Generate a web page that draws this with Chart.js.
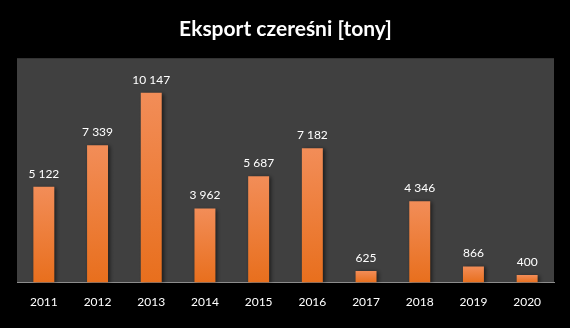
<!DOCTYPE html>
<html>
<head>
<meta charset="utf-8">
<script src="https://cdn.jsdelivr.net/npm/chart.js@4.4.1/dist/chart.umd.min.js"></script>
<style>
  html, body { margin: 0; padding: 0; background: #000; }
  #wrap { width: 570px; height: 328px; position: relative; }
</style>
</head>
<body>
<div id="wrap"><canvas id="c" width="570" height="328"></canvas></div>
<script>
// Cherry export volumes per year
const years = ['2011', '2012', '2013', '2014', '2015', '2016', '2017', '2018', '2019', '2020'];
const exportTons = [5122, 7339, 10147, 3962, 5687, 7182, 625, 4346, 866, 400];
const chartTitle = 'Eksport czereśni [tony]';

const FONT = 'Lato, "Open Sans", sans-serif';

function formatTons(v) {
  return String(v).replace(/\B(?=(\d{3})+(?!\d))/g, ' ');
}

// Dark gray plot background
const plotBackground = {
  id: 'plotBackground',
  beforeDraw(chart) {
    const { ctx, chartArea: a } = chart;
    ctx.save();
    ctx.fillStyle = '#404040';
    ctx.fillRect(a.left, a.top, a.right - a.left, a.bottom - a.top);
    ctx.restore();
  }
};

// Soft shadow to the right of each bar
const barShadow = {
  id: 'barShadow',
  beforeDatasetsDraw(chart) {
    const ctx = chart.ctx;
    ctx.save();
    ctx.shadowColor = 'rgba(0,0,0,0.55)';
    ctx.shadowBlur = 4;
    ctx.shadowOffsetX = 2;
    ctx.shadowOffsetY = 1;
  },
  afterDatasetsDraw(chart) {
    chart.ctx.restore();
  }
};

// Value labels above the bars
const valueLabels = {
  id: 'valueLabels',
  afterDraw(chart) {
    const ctx = chart.ctx;
    const meta = chart.getDatasetMeta(0);
    ctx.save();
    ctx.fillStyle = '#ffffff';
    ctx.font = '12px ' + FONT;
    ctx.textAlign = 'center';
    ctx.textBaseline = 'middle';
    meta.data.forEach((bar, i) => {
      const v = chart.data.datasets[0].data[i];
      ctx.fillText(formatTons(v), bar.x, bar.y - 13);
    });
    ctx.restore();
  }
};

new Chart(document.getElementById('c'), {
  type: 'bar',
  data: {
    labels: years,
    datasets: [{
      data: exportTons,
      backgroundColor(context) {
        const chart = context.chart;
        if (!chart.chartArea) return '#EE7D35';
        const y = chart.scales.y;
        const top = y.getPixelForValue(context.raw);
        const bottom = y.getPixelForValue(0);
        const g = chart.ctx.createLinearGradient(0, top, 0, bottom);
        g.addColorStop(0, '#F28D58');
        g.addColorStop(1, '#E86F1D');
        return g;
      },
      borderWidth: 0,
      categoryPercentage: 1,
      barPercentage: 0.39
    }]
  },
  options: {
    responsive: false,
    animation: false,
    devicePixelRatio: 1,
    layout: { padding: { left: 17, right: 16, top: 0, bottom: 7 } },
    plugins: {
      legend: { display: false },
      tooltip: { enabled: false },
      title: {
        display: true,
        text: chartTitle,
        color: '#ffffff',
        font: { family: FONT, size: 21, weight: 'bold', lineHeight: 1.2 },
        padding: { top: 17, bottom: 16 }
      }
    },
    scales: {
      x: {
        grid: { display: false, drawTicks: false },
        border: { display: true, color: '#8c8c8c', width: 1 },
        ticks: { color: '#ffffff', font: { family: FONT, size: 12 }, padding: 12, maxRotation: 0 }
      },
      y: {
        display: false,
        min: 0,
        max: 12000
      }
    }
  },
  plugins: [plotBackground, barShadow, valueLabels]
});
</script>
</body>
</html>
